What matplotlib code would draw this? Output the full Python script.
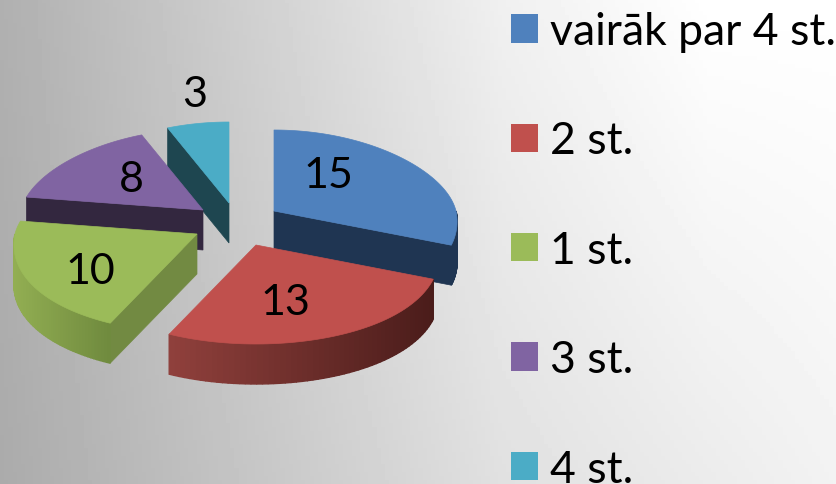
import matplotlib
matplotlib.use('Agg')
import matplotlib.pyplot as plt
from matplotlib.patches import Patch, Polygon
from matplotlib.colors import to_rgb
import numpy as np

plt.rcParams['font.family'] = ['Lato', 'DejaVu Sans']

labels = ['vairāk par 4 st.', '2 st.', '1 st.', '3 st.', '4 st.']
values = [15, 13, 10, 8, 3]

colors = ['#4F81BD', '#C0504D', '#9BBB59', '#8064A2', '#4BACC6']
edge_colors = ['#1F3552', '#4F1F1C', '#728A42', '#33273F', '#1E4650']
# outer wall shade, left end and right end of the picture
wall_left = ['#1F3552', '#90403C', '#92AE52', '#33273F', '#1E4650']
wall_right = ['#1F3552', '#4A1C1A', '#6F8A3E', '#33273F', '#1E4650']

# exploded centre of each slice, in pixels
centers = [(274, 212), (256, 246), (197, 235), (203, 211), (229, 204)]
# which cut face shows
cut_face = ['end', None, 'start', 'start', 'start']
value_pos = [(328, 176), (285, 303), (90, 272), (131, 180), (195, 95)]
draw_order = [4, 3, 0, 2, 1]

RX = 182
RY_BACK = 81
RY_FRONT = 99
DEPTH = 40
PERSPECTIVE = 0.11


def rim(cx, cy, a):
    # a is clockwise from 12 o'clock, degrees
    r = np.radians(a)
    c = np.cos(r)
    ry = np.where(c > 0, RY_BACK, RY_FRONT)
    return cx + RX * (1 - PERSPECTIVE * c) * np.sin(r), cy - ry * c


def draw_slice(ax, i, a0, a1):
    cx, cy = centers[i]
    # cut face
    if cut_face[i] is not None:
        a = a0 if cut_face[i] == 'start' else a1
        ex, ey = rim(cx, cy, a)
        ax.add_patch(Polygon([(cx, cy), (ex, ey), (ex, ey + DEPTH), (cx, cy + DEPTH)],
                             fc=edge_colors[i], ec=edge_colors[i], lw=0.5, zorder=2))
    # outer wall, in small pieces so the shade can change
    lo, hi = max(a0, 90), min(a1, 270)
    if hi > lo:
        steps = np.linspace(lo, hi, 60)
        xs, ys = rim(cx, cy, steps)
        xmin, xmax = xs.min(), xs.max()
        cl, cr = np.array(to_rgb(wall_left[i])), np.array(to_rgb(wall_right[i]))
        for j in range(len(steps) - 1):
            t = ((xs[j] + xs[j + 1]) / 2 - xmin) / (xmax - xmin)
            col = cl + (cr - cl) * t
            ax.add_patch(Polygon([(xs[j], ys[j]), (xs[j + 1], ys[j + 1]),
                                  (xs[j + 1], ys[j + 1] + DEPTH), (xs[j], ys[j] + DEPTH)],
                                 fc=col, ec=col, lw=1, zorder=2))
    # top
    steps = np.linspace(a0, a1, 80)
    xs, ys = rim(cx, cy, steps)
    pts = [(cx, cy)] + list(zip(xs, ys))
    ax.add_patch(Polygon(pts, fc=colors[i], ec=colors[i], lw=0.5, zorder=2))


fig = plt.figure(figsize=(8.37, 4.85), dpi=100)
ax = fig.add_axes([0, 0, 1, 1])
ax.set_xlim(0, 837)
ax.set_ylim(485, 0)
ax.axis('off')

# grey to white background, blend of a top row and a bottom row
gx, gy = np.meshgrid(np.linspace(0, 1, 200), np.linspace(0, 1, 120))
top_row = np.interp(gx, [0, 0.6, 0.85, 1], [0.69, 0.94, 1, 1])
bottom_row = np.interp(gx, [0, 0.6, 1], [0.67, 0.88, 0.95])
bg = top_row * (1 - gy) + bottom_row * gy
ax.imshow(bg, extent=(0, 837, 485, 0), cmap='gray', vmin=0, vmax=1, aspect='auto', zorder=0)

angles = np.concatenate([[0], np.cumsum(values)]) / sum(values) * 360
for i in draw_order:
    draw_slice(ax, i, angles[i], angles[i + 1])

for v, (x, y) in zip(values, value_pos):
    ax.text(x, y, str(v), fontsize=31, ha='center', va='center', color='black', zorder=5)

handles = [Patch(fc=c, ec='none') for c in colors]
ax.legend(handles, labels, loc='upper left', bbox_to_anchor=(511 / 837, 1 - 12 / 485),
          frameon=False, fontsize=32, handlelength=0.61, handleheight=0.61,
          handletextpad=0.27, labelspacing=1.54, borderpad=0, borderaxespad=0,
          labelcolor='black')

fig.savefig('out.png', dpi=100)
